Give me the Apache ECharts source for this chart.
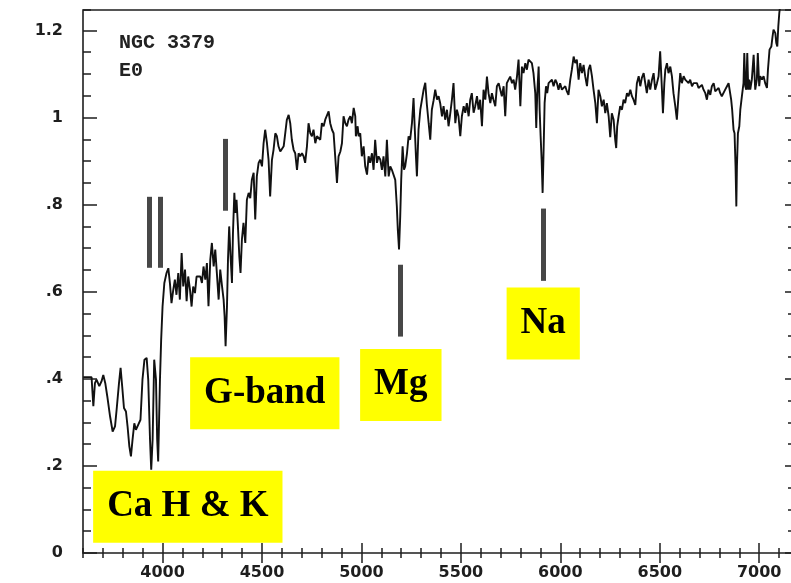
<!DOCTYPE html>
<html>
<head>
<meta charset="utf-8">
<script src="https://cdn.jsdelivr.net/npm/echarts@6/dist/echarts.min.js"></script>
<style>
  html, body { margin: 0; padding: 0; background: #ffffff; overflow: hidden; }
  #chart { width: 791px; height: 583px; }
</style>
</head>
<body>
<div id="chart"></div>
<script>
// Spectrum of NGC 3379 (E0): wavelength in Angstrom, relative flux
const wavelength = [
  3601, 3643, 3652, 3660, 3668, 3682, 3693, 3702, 3712, 3722, 3736, 3749, 3761, 3769, 3781, 3789, 3797, 3806, 3816, 3824,
  3833, 3841, 3849, 3858, 3866, 3878, 3889, 3899, 3909, 3920, 3928, 3937, 3943, 3950, 3958, 3967, 3973, 3978, 3987, 3993,
  4000, 4009, 4020, 4029, 4037, 4045, 4054, 4062, 4070, 4079, 4087, 4096, 4104, 4113, 4121, 4129, 4138, 4146, 4154, 4163,
  4171, 4190, 4198, 4206, 4215, 4223, 4231, 4240, 4248, 4257, 4265, 4273, 4282, 4290, 4299, 4307, 4312, 4317, 4324, 4329,
  4335, 4342, 4349, 4354, 4361, 4366, 4372, 4379, 4386, 4392, 4399, 4407, 4416, 4424, 4433, 4441, 4449, 4458, 4466, 4474,
  4483, 4491, 4500, 4508, 4516, 4525, 4533, 4541, 4550, 4558, 4567, 4575, 4583, 4592, 4600, 4609, 4617, 4625, 4634, 4642,
  4650, 4659, 4667, 4676, 4684, 4692, 4701, 4709, 4717, 4726, 4734, 4743, 4751, 4759, 4768, 4776, 4785, 4793, 4801, 4810,
  4818, 4826, 4835, 4843, 4852, 4860, 4868, 4877, 4885, 4894, 4902, 4910, 4919, 4927, 4935, 4944, 4952, 4961, 4969, 4972,
  4981, 4986, 4994, 5002, 5011, 5019, 5028, 5036, 5044, 5053, 5061, 5069, 5078, 5086, 5095, 5103, 5111, 5120, 5128, 5137,
  5145, 5153, 5162, 5170, 5178, 5183, 5189, 5195, 5200, 5207, 5214, 5220, 5229, 5237, 5245, 5254, 5262, 5267, 5274, 5279,
  5287, 5296, 5304, 5313, 5321, 5329, 5338, 5346, 5354, 5363, 5371, 5380, 5388, 5396, 5405, 5413, 5421, 5430, 5438, 5447,
  5455, 5463, 5472, 5480, 5488, 5497, 5505, 5514, 5522, 5530, 5539, 5547, 5555, 5564, 5572, 5581, 5589, 5597, 5606, 5614,
  5623, 5631, 5639, 5648, 5656, 5664, 5673, 5681, 5690, 5698, 5706, 5715, 5723, 5731, 5740, 5748, 5757, 5765, 5773, 5782,
  5790, 5799, 5807, 5815, 5824, 5832, 5840, 5849, 5857, 5865, 5874, 5879, 5884, 5891, 5896, 5901, 5906, 5911, 5916, 5921,
  5928, 5934, 5941, 5949, 5958, 5966, 5975, 5983, 5991, 5999, 6008, 6016, 6025, 6033, 6041, 6050, 6058, 6067, 6075, 6083,
  6092, 6100, 6109, 6117, 6125, 6134, 6142, 6150, 6159, 6167, 6176, 6184, 6192, 6201, 6209, 6218, 6226, 6234, 6243, 6251,
  6259, 6268, 6276, 6281, 6286, 6293, 6301, 6310, 6318, 6326, 6335, 6343, 6352, 6360, 6368, 6377, 6385, 6394, 6402, 6410,
  6419, 6427, 6435, 6444, 6452, 6461, 6469, 6477, 6486, 6494, 6502, 6511, 6516, 6523, 6528, 6536, 6544, 6553, 6561, 6569,
  6578, 6586, 6595, 6603, 6611, 6620, 6628, 6636, 6645, 6653, 6662, 6670, 6678, 6687, 6695, 6704, 6712, 6720, 6729, 6737,
  6745, 6754, 6762, 6771, 6779, 6787, 6796, 6804, 6812, 6821, 6829, 6838, 6846, 6854, 6859, 6864, 6871, 6876, 6881, 6885,
  6888, 6893, 6900, 6905, 6913, 6921, 6925, 6930, 6935, 6940, 6945, 6950, 6955, 6963, 6972, 6980, 6988, 6993, 7000, 7005,
  7014, 7022, 7030, 7039, 7044, 7052, 7061, 7067, 7072, 7081, 7086, 7091, 7096, 7101, 7109
];
const flux = [
  0.404, 0.404, 0.337, 0.390, 0.398, 0.383, 0.394, 0.409, 0.390, 0.360, 0.314, 0.279, 0.291, 0.329, 0.390, 0.425, 0.383, 0.333, 0.325, 0.291,
  0.245, 0.222, 0.260, 0.298, 0.283, 0.295, 0.306, 0.398, 0.444, 0.448, 0.398, 0.260, 0.191, 0.260, 0.444, 0.398, 0.260, 0.210, 0.398, 0.490,
  0.566, 0.620, 0.643, 0.654, 0.620, 0.574, 0.605, 0.628, 0.593, 0.643, 0.582, 0.689, 0.612, 0.651, 0.578, 0.635, 0.605, 0.566, 0.612, 0.597,
  0.635, 0.635, 0.620, 0.658, 0.628, 0.666, 0.567, 0.674, 0.712, 0.658, 0.697, 0.643, 0.582, 0.651, 0.613, 0.582, 0.544, 0.475, 0.567, 0.674,
  0.750, 0.681, 0.620, 0.735, 0.827, 0.781, 0.811, 0.750, 0.681, 0.643, 0.720, 0.758, 0.712, 0.811, 0.827, 0.815, 0.857, 0.873, 0.766, 0.865,
  0.896, 0.903, 0.888, 0.941, 0.972, 0.941, 0.903, 0.819, 0.903, 0.926, 0.964, 0.957, 0.934, 0.922, 0.926, 0.934, 0.964, 0.995, 1.006, 0.987,
  0.949, 0.926, 0.918, 0.880, 0.918, 0.911, 0.918, 0.911, 0.896, 0.934, 0.987, 0.964, 0.957, 0.972, 0.941, 0.957, 0.957, 0.949, 0.987, 0.980,
  0.995, 0.991, 1.014, 0.987, 0.972, 0.964, 0.911, 0.850, 0.911, 0.922, 0.941, 1.003, 0.987, 0.980, 0.995, 1.003, 0.987, 1.022, 1.003, 0.957,
  0.980, 0.957, 0.964, 0.911, 0.934, 0.888, 0.869, 0.911, 0.896, 0.918, 0.880, 0.949, 0.896, 0.911, 0.903, 0.880, 0.911, 0.865, 0.949, 0.865,
  0.888, 0.880, 0.880, 0.857, 0.796, 0.742, 0.697, 0.773, 0.857, 0.934, 0.880, 0.888, 0.918, 0.957, 0.949, 0.987, 1.045, 0.987, 0.911, 0.865,
  0.972, 1.018, 1.040, 1.065, 1.080, 1.030, 0.987, 0.949, 1.018, 1.040, 1.064, 1.041, 1.049, 1.033, 1.003, 1.026, 0.995, 1.018, 0.980, 1.011,
  1.041, 1.079, 0.987, 1.018, 1.003, 0.957, 1.003, 1.026, 1.011, 1.033, 1.003, 1.041, 1.056, 1.011, 1.026, 1.049, 1.018, 1.041, 0.980, 1.064,
  1.041, 1.094, 1.056, 1.033, 1.056, 1.041, 1.026, 1.072, 1.079, 1.064, 1.049, 1.072, 1.003, 1.079, 1.087, 1.094, 1.079, 1.087, 1.064, 1.094,
  1.133, 1.026, 1.117, 1.102, 1.125, 1.110, 1.133, 1.137, 1.125, 1.102, 1.056, 0.976, 1.056, 1.117, 1.018, 0.957, 0.903, 0.827, 0.926, 1.033,
  1.072, 1.056, 1.079, 1.079, 1.087, 1.072, 1.087, 1.079, 1.064, 1.079, 1.064, 1.064, 1.072, 1.060, 1.052, 1.087, 1.110, 1.140, 1.125, 1.133,
  1.087, 1.125, 1.102, 1.121, 1.095, 1.072, 1.110, 1.121, 1.095, 1.064, 1.033, 0.987, 1.064, 1.049, 1.026, 1.041, 1.010, 1.033, 1.003, 0.955,
  1.010, 0.995, 0.949, 0.930, 0.980, 1.003, 1.026, 1.018, 1.041, 1.033, 1.056, 1.049, 1.064, 1.049, 1.041, 1.029, 1.079, 1.095, 1.072, 1.091,
  1.102, 1.079, 1.056, 1.087, 1.064, 1.087, 1.102, 1.064, 1.079, 1.095, 1.152, 1.064, 1.010, 1.079, 1.110, 1.125, 1.102, 1.117, 1.095, 1.056,
  1.026, 0.995, 1.056, 1.102, 1.079, 1.095, 1.087, 1.091, 1.079, 1.087, 1.072, 1.079, 1.075, 1.079, 1.068, 1.072, 1.075, 1.064, 1.056, 1.041,
  1.064, 1.052, 1.072, 1.079, 1.060, 1.064, 1.068, 1.056, 1.049, 1.052, 1.064, 1.072, 1.079, 1.079, 1.041, 1.018, 0.972, 0.964, 0.888, 0.796,
  0.888, 0.964, 0.980, 1.018, 1.049, 1.079, 1.148, 1.072, 1.064, 1.148, 1.064, 1.087, 1.064, 1.087, 1.144, 1.064, 1.087, 1.148, 1.072, 1.095,
  1.087, 1.095, 1.079, 1.068, 1.110, 1.156, 1.163, 1.186, 1.202, 1.194, 1.171, 1.163, 1.209, 1.240, 1.271
];

// Axis ranges and tick values
const xMin = 3600, xMax = 7185;
const yMin = 0, yMax = 1.247;
const xMajorTicks = [4000, 4500, 5000, 5500, 6000, 6500, 7000];

// Feature labels (anchored at wavelength / flux)
const featureNames = ['Ca H & K', 'G-band', 'Mg', 'Na'];
const featureLabelWave = [4127, 4514, 5198, 5914];
const featureLabelFlux = [0.106, 0.367, 0.386, 0.527];

// Vertical marker bars for the absorption features
const markerWave = [3931, 3986, 4313, 5193, 5914];
const markerLow  = [0.655, 0.655, 0.786, 0.497, 0.625];
const markerHigh = [0.818, 0.818, 0.951, 0.662, 0.791];

const spectrum = wavelength.map((w, i) => [w, flux[i]]);
const labelPoints = featureNames.map((n, i) => ({ value: [featureLabelWave[i], featureLabelFlux[i]], name: n }));
const markerLines = markerWave.map((w, i) => [{ coord: [w, markerLow[i]] }, { coord: [w, markerHigh[i]] }]);

const ink = '#1e1e1e';
const tickFont = { color: ink, fontFamily: 'DejaVu Sans', fontWeight: 'bold', fontSize: 16 };

function xAxisDef(position, major, showLabel) {
  return {
    type: 'value', position, min: xMin, max: xMax,
    interval: 100,
    axisLine: { show: false },
    splitLine: { show: false },
    axisTick: major
      ? { show: true, inside: true, length: 10, customValues: xMajorTicks, lineStyle: { color: ink, width: 1.5 } }
      : { show: true, inside: true, length: 5, lineStyle: { color: ink, width: 1.5 } },
    axisLabel: showLabel
      ? Object.assign({ show: true, margin: 12, customValues: xMajorTicks, formatter: v => String(v) }, tickFont)
      : { show: false }
  };
}

function yAxisDef(position, major, showLabel, majorLen, minorLen) {
  return {
    type: 'value', position, min: yMin, max: yMax,
    interval: major ? 0.2 : 0.05,
    axisLine: { show: false },
    splitLine: { show: false },
    axisTick: { show: true, inside: true, length: major ? majorLen : minorLen, lineStyle: { color: ink, width: 1.5 } },
    axisLabel: showLabel
      ? Object.assign({
          show: true, margin: 20, showMaxLabel: false,
          formatter: v => {
            const r = Number(v.toFixed(2));
            if (r === 0) return '0';
            return r < 1 ? String(r).replace(/^0/, '') : String(r);
          }
        }, tickFont)
      : { show: false }
  };
}

const chart = echarts.init(document.getElementById('chart'), null, { renderer: 'canvas' });
chart.setOption({
  animation: false,
  backgroundColor: '#ffffff',
  grid: {
    left: 83, top: 10, width: 713, height: 543,
    outerBoundsMode: 'none',
    containLabel: false,
    show: true, borderColor: ink, borderWidth: 1.6, backgroundColor: 'transparent'
  },
  xAxis: [
    xAxisDef('bottom', false, false),
    xAxisDef('bottom', true, true),
    xAxisDef('top', false, false),
    xAxisDef('top', true, false)
  ],
  yAxis: [
    yAxisDef('left', true, true, 14, 8),
    yAxisDef('left', false, false, 14, 8),
    yAxisDef('right', true, false, 11, 8),
    yAxisDef('right', false, false, 11, 8)
  ],
  graphic: [
    { type: 'text', x: 119, y: 43, style: { text: 'NGC 3379', font: 'bold 20px "Liberation Mono"', fill: '#222222', verticalAlign: 'middle' } },
    { type: 'text', x: 119, y: 71, style: { text: 'E0', font: 'bold 20px "Liberation Mono"', fill: '#222222', verticalAlign: 'middle' } }
  ],
  series: [
    {
      type: 'line',
      name: 'NGC 3379',
      data: spectrum,
      showSymbol: false,
      symbol: 'none',
      clip: true,
      lineStyle: { color: '#111111', width: 1.9 },
      markLine: {
        silent: true,
        symbol: ['none', 'none'],
        label: { show: false },
        lineStyle: { color: '#474747', width: 5, type: 'solid' },
        data: markerLines
      },
      z: 3
    },
    {
      type: 'scatter',
      name: 'features',
      data: labelPoints,
      symbol: 'circle',
      symbolSize: 2,
      itemStyle: { color: 'rgba(0,0,0,0)', opacity: 1 },
      silent: true,
      labelLayout: { hideOverlap: false },
      label: {
        show: true,
        position: 'inside',
        formatter: p => p.name,
        color: '#000000',
        fontFamily: 'Liberation Serif',
        fontWeight: 'bold',
        fontSize: 37,
        lineHeight: 40,
        backgroundColor: '#ffff00',
        padding: [20, 14, 12, 14]
      },
      z: 4
    }
  ]
});
</script>
</body>
</html>
